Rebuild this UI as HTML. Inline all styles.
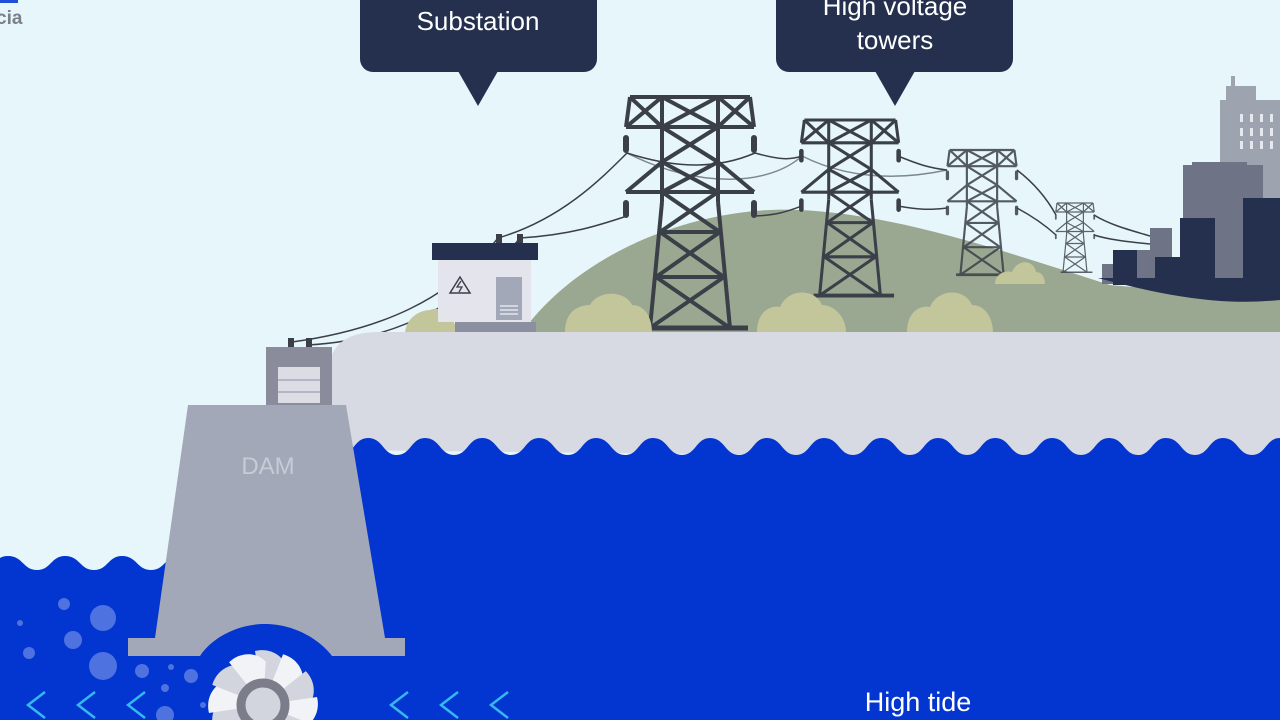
<!DOCTYPE html>
<html><head><meta charset="utf-8"><style>
html,body{margin:0;padding:0;width:1280px;height:720px;overflow:hidden;background:#e6f6fa}
svg{display:block}
text{font-family:"Liberation Sans","DejaVu Sans",sans-serif}
</style></head><body>
<svg width="1280" height="720" viewBox="0 0 1280 720" xmlns="http://www.w3.org/2000/svg">
<defs>
<g id="tower" fill="none" stroke="#3a3f48" stroke-width="4" stroke-linejoin="round">
  <line x1="-60" y1="0" x2="60" y2="0"/>
  <line x1="-64" y1="30" x2="64" y2="30"/>
  <line x1="-64" y1="95" x2="64" y2="95"/>
  <line x1="-60" y1="0" x2="-64" y2="30"/><line x1="60" y1="0" x2="64" y2="30"/>
  <line x1="-28" y1="65" x2="-64" y2="95"/><line x1="28" y1="65" x2="64" y2="95"/>
  <line x1="-28" y1="0" x2="-28" y2="105"/><line x1="28" y1="0" x2="28" y2="105"/>
  <line x1="-28" y1="105" x2="-40" y2="231"/><line x1="28" y1="105" x2="40" y2="231"/>
  <line x1="-28" y1="0" x2="28" y2="30"/><line x1="28" y1="0" x2="-28" y2="30"/>
  <line x1="-28" y1="30" x2="28" y2="65"/><line x1="28" y1="30" x2="-28" y2="65"/>
  <line x1="-28" y1="65" x2="28" y2="95"/><line x1="28" y1="65" x2="-28" y2="95"/>
  <line x1="-28" y1="95" x2="30" y2="135"/><line x1="28" y1="95" x2="-30" y2="135"/>
  <line x1="-30" y1="135" x2="34" y2="180"/><line x1="30" y1="135" x2="-34" y2="180"/>
  <line x1="-34" y1="180" x2="40" y2="231"/><line x1="34" y1="180" x2="-40" y2="231"/>
  <line x1="-30" y1="135" x2="30" y2="135"/><line x1="-34" y1="180" x2="34" y2="180"/>
  <line x1="-60" y1="0" x2="-28" y2="30"/><line x1="60" y1="0" x2="28" y2="30"/>
  <line x1="-64" y1="30" x2="-28" y2="0"/><line x1="64" y1="30" x2="28" y2="0"/>
  <line x1="-48" y1="231" x2="58" y2="231" stroke-width="5"/>
  <rect x="-67" y="38" width="6" height="18" rx="3" fill="#3a3f48" stroke="none"/>
  <rect x="61" y="38" width="6" height="18" rx="3" fill="#3a3f48" stroke="none"/>
  <rect x="-67" y="103" width="6" height="18" rx="3" fill="#3a3f48" stroke="none"/>
  <rect x="61" y="103" width="6" height="18" rx="3" fill="#3a3f48" stroke="none"/>
</g>
</defs>
<path d="M520 335 C580 250 700 205 800 210 C900 215 1000 250 1110 285 L1280 300 L1280 340 L520 340 Z" fill="#9aa892"/>
<g>
<rect x="1220" y="100" width="60" height="200" fill="#9ea3b0"/>
<rect x="1226" y="86" width="30" height="20" fill="#9ea3b0"/>
<rect x="1231" y="76" width="4" height="14" fill="#9ea3b0"/>
<g fill="#e6e8ee"><rect x="1240" y="114" width="3" height="8"/><rect x="1250" y="114" width="3" height="8"/><rect x="1260" y="114" width="3" height="8"/><rect x="1270" y="114" width="3" height="8"/>
<rect x="1240" y="128" width="3" height="8"/><rect x="1250" y="128" width="3" height="8"/><rect x="1260" y="128" width="3" height="8"/><rect x="1270" y="128" width="3" height="8"/>
<rect x="1240" y="141" width="3" height="8"/><rect x="1250" y="141" width="3" height="8"/><rect x="1260" y="141" width="3" height="8"/><rect x="1270" y="141" width="3" height="8"/></g>
<rect x="1183" y="165" width="80" height="120" fill="#6e7486"/>
<rect x="1192" y="162" width="55" height="8" fill="#6e7486"/>
<rect x="1150" y="228" width="22" height="50" fill="#6e7486"/>
<rect x="1135" y="250" width="30" height="30" fill="#6e7486"/>
<rect x="1102" y="264" width="12" height="20" fill="#6e7486"/>
<rect x="1180" y="218" width="35" height="70" fill="#24304d"/>
<rect x="1243" y="198" width="37" height="90" fill="#24304d"/>
<rect x="1113" y="250" width="24" height="35" fill="#24304d"/>
<rect x="1155" y="257" width="30" height="30" fill="#24304d"/>
<path d="M1098 278 L1280 278 L1280 300 C1230 305 1180 300 1098 278 Z" fill="#24304d"/>
</g>
<use href="#tower" transform="translate(1075,203) scale(0.3)" opacity="0.8"/>
<use href="#tower" transform="translate(982,150) scale(0.54)" opacity="0.85"/>
<use href="#tower" transform="translate(850,120) scale(0.76)"/>
<use href="#tower" transform="translate(690,97)"/>
<g fill="none" stroke="#3a3f48" stroke-width="1.5">
<path d="M498 238 C560 220 600 180 627 153"/>
<path d="M520 238 C570 235 600 225 627 216"/>
<path d="M627 153 C680 170 720 168 755 153"/>
<path d="M755 153 C780 160 790 160 802 156"/>
<path d="M755 216 C780 215 790 210 802 206"/>
<path d="M898 156 C920 165 930 168 947 170"/>
<path d="M898 206 C920 210 930 210 947 208"/>
<path d="M1017 170 C1030 180 1045 195 1056 215"/>
<path d="M1017 208 C1030 215 1045 225 1056 235"/>
<path d="M1094 215 C1110 225 1130 230 1150 236"/>
<path d="M1094 235 C1110 240 1130 242 1150 244"/>
<path d="M627 153 C700 190 770 185 802 156" opacity="0.6"/>
<path d="M802 156 C850 180 900 180 947 170" opacity="0.6"/>
<path d="M292 342 C380 330 450 300 498 238"/>
<path d="M308 345 C400 340 470 300 520 238"/>
</g>
<g fill="#c3c59a">
<path d="M565 332 C565 310 580 305 590 305 C598 290 625 290 632 305 C645 305 652 318 652 332 Z"/>
<path d="M757 332 C757 312 770 305 780 307 C788 288 815 288 822 305 C835 305 846 318 846 332 Z"/>
<path d="M907 332 C907 312 920 305 930 307 C938 288 965 288 972 305 C985 305 993 318 993 332 Z"/>
<path d="M995 284 C995 274 1005 270 1012 272 C1018 258 1034 260 1036 272 C1042 272 1045 278 1045 284 Z"/>
<path d="M405 335 C405 318 420 310 430 310 C440 305 455 315 458 335 Z"/>
</g>
<rect x="438" y="258" width="93" height="64" fill="#e4e5ec"/>
<rect x="432" y="243" width="106" height="17" fill="#24304d"/>
<rect x="496" y="234" width="6" height="9" fill="#3a3f48"/><rect x="517" y="234" width="6" height="9" fill="#3a3f48"/>
<rect x="496" y="277" width="26" height="43" fill="#a3a8b8"/>
<g stroke="#e4e5ec" stroke-width="1.5"><line x1="500" y1="306" x2="518" y2="306"/><line x1="500" y1="310" x2="518" y2="310"/><line x1="500" y1="314" x2="518" y2="314"/></g>
<path d="M460 277 L470 293 L450 293 Z" fill="none" stroke="#3a3f48" stroke-width="1.5"/>
<path d="M461 281 L457 287 L462 287 L459 292" fill="none" stroke="#3a3f48" stroke-width="1.3"/>
<rect x="455" y="322" width="81" height="10" fill="#8c8fa0"/>
<path d="M330 450 L330 360 C335 345 345 332 380 332 L1280 332 L1280 460 Z" fill="#d7d9e3"/>
<path fill="#0335d0" d="M340 720 L340 455 c14 0 14 -17 28 -17 c15 0 15 17 29 17 c14 0 14 -17 28 -17 c15 0 15 17 29 17 c14 0 14 -17 28 -17 c15 0 15 17 29 17 c14 0 14 -17 28 -17 c15 0 15 17 29 17 c14 0 14 -17 28 -17 c15 0 15 17 29 17 c14 0 14 -17 28 -17 c15 0 15 17 29 17 c14 0 14 -17 28 -17 c15 0 15 17 29 17 c14 0 14 -17 28 -17 c15 0 15 17 29 17 c14 0 14 -17 28 -17 c15 0 15 17 29 17 c14 0 14 -17 28 -17 c15 0 15 17 29 17 c14 0 14 -17 28 -17 c15 0 15 17 29 17 c14 0 14 -17 28 -17 c15 0 15 17 29 17 c14 0 14 -17 28 -17 c15 0 15 17 29 17 c14 0 14 -17 28 -17 c15 0 15 17 29 17 c14 0 14 -17 28 -17 c15 0 15 17 29 17 c14 0 14 -17 28 -17 c15 0 15 17 29 17 c14 0 14 -17 28 -17 c15 0 15 17 29 17 L1310 720 Z"/>
<path fill="#0335d0" d="M-20 720 L-20 570 c14 0 14 -14 28 -14 c15 0 15 14 29 14 c14 0 14 -14 28 -14 c15 0 15 14 29 14 c14 0 14 -14 28 -14 c15 0 15 14 29 14 c14 0 14 -14 28 -14 c15 0 15 14 29 14 c14 0 14 -14 28 -14 c15 0 15 14 29 14 L265 620 L360 620 L360 720 Z"/>
<g fill="#4e72e0">
<circle cx="103" cy="618" r="13"/><circle cx="73" cy="640" r="9"/><circle cx="64" cy="604" r="6"/><circle cx="29" cy="653" r="6"/><circle cx="103" cy="666" r="14"/><circle cx="142" cy="671" r="7"/><circle cx="20" cy="623" r="3"/><circle cx="191" cy="676" r="7"/><circle cx="171" cy="667" r="3"/><circle cx="165" cy="688" r="4"/><circle cx="165" cy="715" r="9"/><circle cx="203" cy="705" r="3"/><circle cx="192" cy="645" r="5"/>
</g>
<rect x="266" y="347" width="66" height="60" fill="#8a8c9c"/>
<rect x="278" y="367" width="42" height="36" fill="#dcdde4"/>
<g stroke="#a3a8b8" stroke-width="1.5"><line x1="278" y1="380" x2="320" y2="380"/><line x1="278" y1="392" x2="320" y2="392"/></g>
<rect x="288" y="338" width="6" height="9" fill="#3a3f48"/><rect x="306" y="338" width="6" height="9" fill="#3a3f48"/>
<path d="M188 405 L346 405 L385 638 L405 638 L405 656 L128 656 L128 638 L155 638 Z" fill="#a3a8b8"/>
<path d="M200 656 C210 640 235 624 265 624 C295 624 320 640 332 656 Z" fill="#0335d0"/>
<text x="268" y="474" font-size="24" fill="#c8cbd6" text-anchor="middle">DAM</text>
<g transform="translate(263,705)">
<g fill="#d2d4de">
<path d="M0 0 L-8 -54 C8 -58 22 -48 24 -36 Z"/>
<path d="M0 0 L-8 -54 C8 -58 22 -48 24 -36 Z" transform="rotate(30)" fill="#f2f3f7"/>
<path d="M0 0 L-8 -54 C8 -58 22 -48 24 -36 Z" transform="rotate(60)"/>
<path d="M0 0 L-8 -54 C8 -58 22 -48 24 -36 Z" transform="rotate(90)" fill="#f2f3f7"/>
<path d="M0 0 L-8 -54 C8 -58 22 -48 24 -36 Z" transform="rotate(120)"/>
<path d="M0 0 L-8 -54 C8 -58 22 -48 24 -36 Z" transform="rotate(150)" fill="#f2f3f7"/>
<path d="M0 0 L-8 -54 C8 -58 22 -48 24 -36 Z" transform="rotate(180)"/>
<path d="M0 0 L-8 -54 C8 -58 22 -48 24 -36 Z" transform="rotate(210)" fill="#f2f3f7"/>
<path d="M0 0 L-8 -54 C8 -58 22 -48 24 -36 Z" transform="rotate(240)"/>
<path d="M0 0 L-8 -54 C8 -58 22 -48 24 -36 Z" transform="rotate(270)" fill="#f2f3f7"/>
<path d="M0 0 L-8 -54 C8 -58 22 -48 24 -36 Z" transform="rotate(300)"/>
<path d="M0 0 L-8 -54 C8 -58 22 -48 24 -36 Z" transform="rotate(330)" fill="#f2f3f7"/>
</g>
<circle r="22" fill="#d2d4de" stroke="#7b7d8a" stroke-width="9"/>
</g>
<g fill="none" stroke="#35b8f0" stroke-width="2.5">
<path d="M45 692 L28 705 L45 718"/><path d="M95 692 L78 705 L95 718"/><path d="M145 692 L128 705 L145 718"/>
<path d="M408 692 L391 705 L408 718"/><path d="M458 692 L441 705 L458 718"/><path d="M508 692 L491 705 L508 718"/>
</g>
<text x="918" y="711" font-size="27" fill="#ffffff" text-anchor="middle">High tide</text>
<rect x="360" y="-15" width="237" height="87" rx="13" fill="#24304d"/>
<path d="M458 71 L478 106 L498 71 Z" fill="#24304d"/>
<text x="478" y="30" font-size="26" fill="#ffffff" text-anchor="middle">Substation</text>
<rect x="776" y="-15" width="237" height="87" rx="13" fill="#24304d"/>
<path d="M875 71 L895 106 L915 71 Z" fill="#24304d"/>
<text x="895" y="15" font-size="26" fill="#ffffff" text-anchor="middle">High voltage</text>
<text x="895" y="49" font-size="26" fill="#ffffff" text-anchor="middle">towers</text>
<text x="-4" y="24" font-size="19" font-weight="bold" fill="#7a7f8a">cia</text>
<rect x="0" y="0" width="18" height="3" fill="#1f4ed8"/>
</svg>
</body></html>
